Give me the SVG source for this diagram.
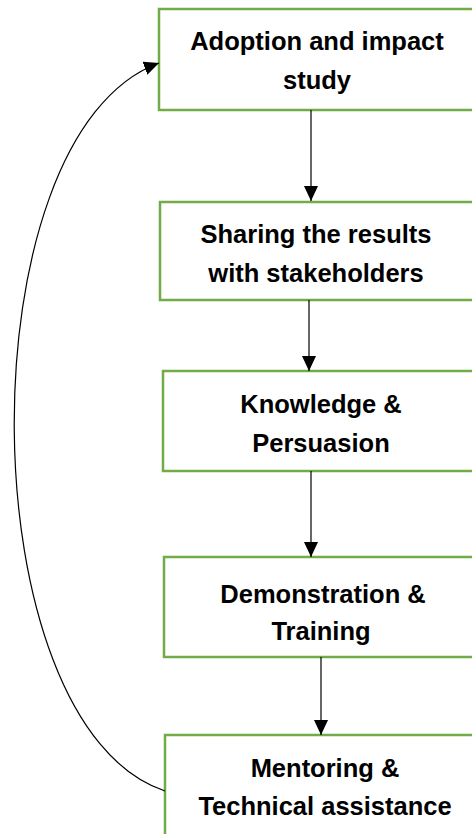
<svg xmlns="http://www.w3.org/2000/svg" width="472" height="834" viewBox="0 0 472 834">
<style>
.box{fill:#fff;stroke:#70AD47;stroke-width:2.5}
.t{font-family:"Liberation Sans",Arial,sans-serif;font-weight:bold;font-size:25.5px;fill:#000;text-anchor:middle}
.c{fill:none;stroke:#000;stroke-width:1.2}
</style>
<defs>
<marker id="ah" markerUnits="userSpaceOnUse" markerWidth="16" markerHeight="14" refX="15" refY="7" orient="auto">
<path d="M0,0 L15,7 L0,14 Z" fill="#000"/>
</marker>
</defs>
<g id="n1"><rect class="box" x="159" y="9" width="330" height="101"/>
<text class="t" x="317" y="50">Adoption and impact</text><text class="t" x="317" y="89">study</text></g>
<g id="n2"><rect class="box" x="160" y="202" width="330" height="98"/>
<text class="t" x="316" y="243">Sharing the results</text><text class="t" x="316" y="282">with stakeholders</text></g>
<g id="n3"><rect class="box" x="163" y="371" width="330" height="100"/>
<text class="t" x="321" y="413">Knowledge &amp;</text><text class="t" x="321" y="452">Persuasion</text></g>
<g id="n4"><rect class="box" x="164" y="557" width="330" height="100"/>
<text class="t" x="323" y="603">Demonstration &amp;</text><text class="t" x="321" y="640">Training</text></g>
<g id="n5"><rect class="box" x="165" y="735" width="330" height="120"/>
<text class="t" x="325" y="777">Mentoring &amp;</text><text class="t" x="325" y="815">Technical assistance</text></g>
<g id="connectors">
<path class="c" d="M311,110 L311,201" marker-end="url(#ah)"/>
<path class="c" d="M309,300 L309,371" marker-end="url(#ah)"/>
<path class="c" d="M311,471 L311,557" marker-end="url(#ah)"/>
<path class="c" d="M321,657 L321,735" marker-end="url(#ah)"/>
<path class="c" d="M165,791 C-33,725 -37,135 159,63" marker-end="url(#ah)"/>
</g>
</svg>
